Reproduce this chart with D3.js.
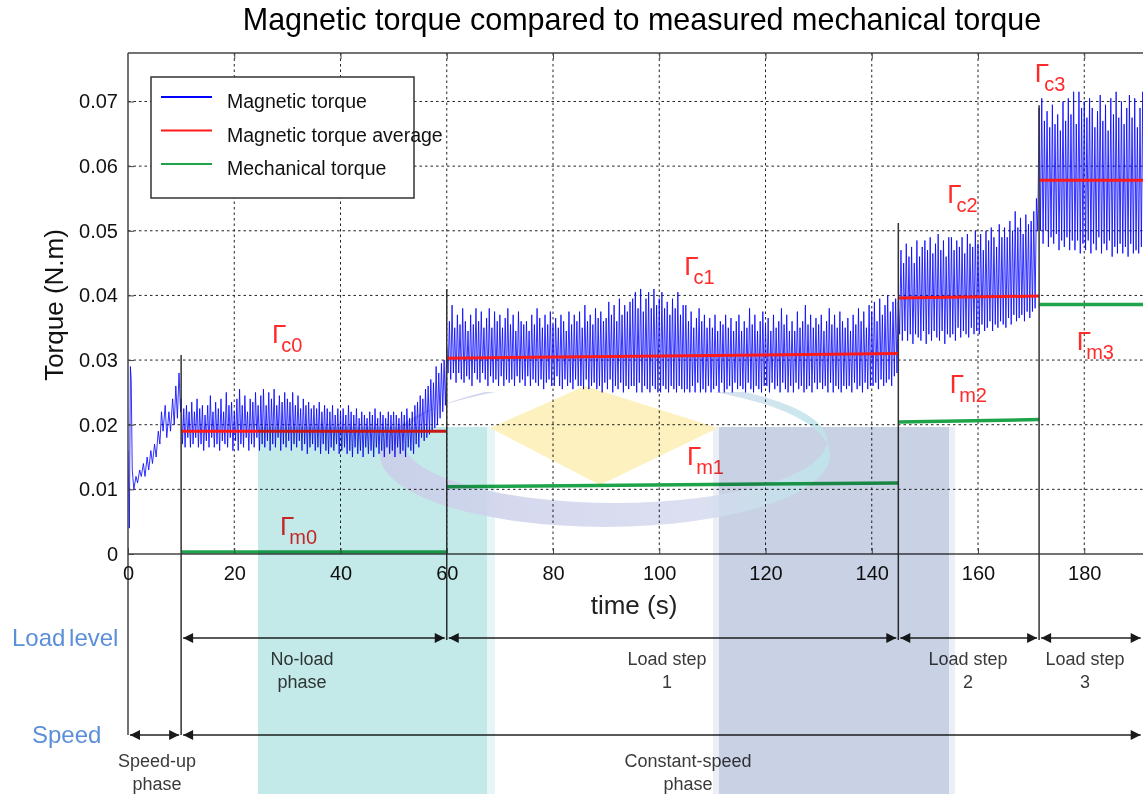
<!DOCTYPE html>
<html>
<head>
<meta charset="utf-8">
<script src="https://cdn.jsdelivr.net/npm/d3@7"></script>
<style>
  body { margin: 0; background: #fff; }
  svg { display: block; font-family: "Liberation Sans", Arial, sans-serif; }
</style>
</head>
<body>
<div id="chart"></div>
<script>
// ---- data ----
const sampleStep = 0.25;

// speed-up phase, irregular samples [t, torque]
const speedUpTorque = [
  [0, 0.016], [0.25, 0.004], [0.45, 0.029], [0.6, 0.027], [0.8, 0.013], [1.1, 0.010],
  [1.5, 0.012], [1.8, 0.011], [2.2, 0.013], [2.5, 0.012], [2.9, 0.014], [3.2, 0.012],
  [3.6, 0.015], [3.9, 0.013], [4.3, 0.016], [4.6, 0.014], [5.0, 0.017], [5.3, 0.015],
  [5.7, 0.019], [6.0, 0.017], [6.3, 0.022], [6.6, 0.019], [7.0, 0.023], [7.3, 0.018],
  [7.7, 0.022], [8.0, 0.019], [8.4, 0.024], [8.7, 0.020], [9.0, 0.026], [9.3, 0.021],
  [9.6, 0.028], [9.9, 0.022]
];

// no-load phase, from t = 10 every 0.25 s
const noLoadStart = 10;
const noLoadTorque = [
  0.024, 0.017, 0.0225, 0.0165, 0.023, 0.018, 0.022, 0.0165, 0.0235, 0.017, 0.022, 0.018, 0.024, 0.0165, 0.0225, 0.017, 0.023, 0.016, 0.0215, 0.0175,
  0.023, 0.0165, 0.0245, 0.018, 0.022, 0.0165, 0.0235, 0.017, 0.0225, 0.016, 0.024, 0.0175, 0.022, 0.017, 0.025, 0.0165, 0.023, 0.018, 0.0235, 0.016,
  0.022, 0.0175, 0.024, 0.016, 0.0255, 0.017, 0.023, 0.0165, 0.0245, 0.018, 0.022, 0.016, 0.024, 0.017, 0.0235, 0.0165, 0.025, 0.018, 0.023, 0.016,
  0.0245, 0.017, 0.0255, 0.0165, 0.023, 0.0175, 0.025, 0.016, 0.024, 0.017, 0.0255, 0.0165, 0.023, 0.018, 0.0245, 0.016, 0.0235, 0.017, 0.025, 0.0165,
  0.024, 0.0175, 0.0235, 0.016, 0.025, 0.017, 0.023, 0.0165, 0.0245, 0.0175, 0.0225, 0.016, 0.024, 0.017, 0.023, 0.0155, 0.0235, 0.0165, 0.0225, 0.017,
  0.023, 0.016, 0.0225, 0.0165, 0.0235, 0.0155, 0.022, 0.017, 0.023, 0.016, 0.0225, 0.0155, 0.022, 0.0165, 0.023, 0.016, 0.0215, 0.017, 0.0225, 0.0155,
  0.022, 0.016, 0.0225, 0.0165, 0.0215, 0.0155, 0.023, 0.016, 0.022, 0.015, 0.0215, 0.0165, 0.0225, 0.0155, 0.021, 0.016, 0.022, 0.015, 0.0215, 0.0165,
  0.021, 0.0155, 0.022, 0.016, 0.0215, 0.015, 0.0225, 0.0165, 0.021, 0.0155, 0.022, 0.016, 0.0215, 0.015, 0.021, 0.0165, 0.022, 0.0155, 0.0215, 0.016,
  0.022, 0.015, 0.0215, 0.0165, 0.021, 0.0155, 0.022, 0.016, 0.0215, 0.015, 0.0225, 0.0165, 0.021, 0.016, 0.022, 0.0155, 0.023, 0.017, 0.0235, 0.0165,
  0.0245, 0.018, 0.024, 0.0175, 0.0255, 0.018, 0.026, 0.0185, 0.027, 0.019, 0.0265, 0.0195, 0.029, 0.020, 0.028, 0.021, 0.0295, 0.022, 0.030, 0.023
];

// load step 1, from t = 60
const step1Start = 60;
const step1Torque = [
  0.032, 0.028, 0.036, 0.027, 0.0385, 0.028, 0.035, 0.0265, 0.037, 0.028, 0.0355, 0.027, 0.038, 0.0265, 0.036, 0.0275, 0.0345, 0.027, 0.037, 0.026,
  0.0355, 0.028, 0.038, 0.027, 0.036, 0.0265, 0.0375, 0.028, 0.035, 0.027, 0.0365, 0.026, 0.038, 0.0275, 0.035, 0.0265, 0.0375, 0.027, 0.036, 0.026,
  0.037, 0.0275, 0.035, 0.026, 0.0365, 0.027, 0.038, 0.0265, 0.0355, 0.027, 0.037, 0.026, 0.0345, 0.0275, 0.0375, 0.0265, 0.036, 0.027, 0.0355, 0.026,
  0.036, 0.0275, 0.0345, 0.026, 0.037, 0.027, 0.0355, 0.0265, 0.038, 0.026, 0.0365, 0.027, 0.035, 0.0255, 0.037, 0.0265, 0.0355, 0.027, 0.0375, 0.026,
  0.0355, 0.026, 0.0365, 0.0275, 0.035, 0.026, 0.037, 0.0255, 0.036, 0.027, 0.0345, 0.026, 0.0375, 0.0265, 0.0355, 0.0255, 0.037, 0.027, 0.036, 0.026,
  0.0375, 0.026, 0.035, 0.0255, 0.0385, 0.027, 0.036, 0.0255, 0.037, 0.026, 0.0355, 0.0265, 0.038, 0.0255, 0.0365, 0.026, 0.0375, 0.025, 0.036, 0.0265,
  0.0365, 0.0255, 0.039, 0.027, 0.037, 0.025, 0.0385, 0.026, 0.036, 0.0255, 0.0395, 0.0265, 0.037, 0.025, 0.0385, 0.026, 0.0375, 0.0255, 0.039, 0.026,
  0.0395, 0.026, 0.0405, 0.025, 0.038, 0.0265, 0.041, 0.025, 0.0375, 0.026, 0.0395, 0.0255, 0.0405, 0.025, 0.038, 0.026, 0.041, 0.0255, 0.0385, 0.025,
  0.0395, 0.025, 0.0405, 0.026, 0.038, 0.0255, 0.039, 0.025, 0.037, 0.026, 0.0395, 0.0255, 0.038, 0.025, 0.0405, 0.026, 0.037, 0.0255, 0.0385, 0.025,
  0.0385, 0.0255, 0.036, 0.025, 0.0375, 0.026, 0.035, 0.025, 0.0365, 0.0265, 0.038, 0.025, 0.036, 0.0255, 0.037, 0.025, 0.035, 0.026, 0.0365, 0.025,
  0.035, 0.0255, 0.037, 0.026, 0.0345, 0.025, 0.036, 0.0265, 0.0355, 0.025, 0.037, 0.0255, 0.035, 0.026, 0.0365, 0.025, 0.0345, 0.0265, 0.036, 0.0255,
  0.037, 0.026, 0.0345, 0.0255, 0.036, 0.025, 0.035, 0.0265, 0.038, 0.0255, 0.0355, 0.025, 0.037, 0.026, 0.0345, 0.0255, 0.036, 0.025, 0.0375, 0.026,
  0.0355, 0.026, 0.0365, 0.025, 0.0345, 0.0265, 0.037, 0.0255, 0.035, 0.026, 0.036, 0.025, 0.038, 0.0265, 0.0355, 0.0255, 0.037, 0.025, 0.0345, 0.026,
  0.036, 0.025, 0.0345, 0.0265, 0.0375, 0.0255, 0.035, 0.026, 0.036, 0.025, 0.0385, 0.0255, 0.0355, 0.026, 0.037, 0.025, 0.035, 0.0265, 0.0365, 0.0255,
  0.0355, 0.0265, 0.037, 0.0255, 0.0345, 0.026, 0.036, 0.025, 0.038, 0.0265, 0.0355, 0.025, 0.037, 0.026, 0.035, 0.0255, 0.0375, 0.025, 0.036, 0.026,
  0.035, 0.0255, 0.0365, 0.026, 0.0345, 0.025, 0.037, 0.0265, 0.0355, 0.0255, 0.038, 0.026, 0.036, 0.025, 0.0375, 0.0265, 0.035, 0.0255, 0.0385, 0.026,
  0.0375, 0.026, 0.039, 0.0265, 0.036, 0.0255, 0.0395, 0.027, 0.037, 0.026, 0.0385, 0.0265, 0.040, 0.027, 0.0375, 0.026, 0.039, 0.0275, 0.0395, 0.028
];

// load step 2, from t = 145
const step2Start = 145;
const step2Torque = [
  0.039, 0.034, 0.047, 0.033, 0.045, 0.0345, 0.048, 0.033, 0.046, 0.034, 0.0475, 0.0325, 0.045, 0.034, 0.0485, 0.0335, 0.046, 0.033, 0.0475, 0.0345,
  0.0485, 0.0325, 0.047, 0.034, 0.049, 0.033, 0.0465, 0.0345, 0.048, 0.0335, 0.0495, 0.033, 0.047, 0.0345, 0.0485, 0.0325, 0.046, 0.034, 0.049, 0.0335,
  0.049, 0.034, 0.047, 0.033, 0.0485, 0.035, 0.0475, 0.0335, 0.049, 0.0345, 0.0465, 0.034, 0.0495, 0.0335, 0.048, 0.035, 0.0475, 0.034, 0.050, 0.0345,
  0.048, 0.034, 0.0495, 0.0355, 0.047, 0.0345, 0.050, 0.035, 0.0485, 0.036, 0.0505, 0.0345, 0.049, 0.0355, 0.0475, 0.035, 0.051, 0.036, 0.049, 0.0355,
  0.0505, 0.035, 0.049, 0.0365, 0.0515, 0.0355, 0.050, 0.037, 0.053, 0.036, 0.0505, 0.0365, 0.052, 0.037, 0.0495, 0.036, 0.0525, 0.0375, 0.051, 0.0365,
  0.0515, 0.0375, 0.053, 0.038, 0.055, 0.050
];

// load step 3, from t = 171.5
const step3Start = 171.5;
const step3Torque = [
  0.069, 0.050, 0.0705, 0.048, 0.067, 0.050, 0.0685, 0.0475, 0.066, 0.049, 0.0695, 0.048, 0.0665, 0.0495, 0.068, 0.047, 0.0655, 0.0485, 0.070, 0.0475,
  0.067, 0.049, 0.0705, 0.047, 0.068, 0.0485, 0.0715, 0.047, 0.0665, 0.0485, 0.0715, 0.0465, 0.069, 0.048, 0.070, 0.047, 0.0675, 0.0485, 0.0705, 0.0465,
  0.069, 0.048, 0.066, 0.047, 0.0685, 0.049, 0.071, 0.0465, 0.067, 0.048, 0.0695, 0.047, 0.0655, 0.0485, 0.0705, 0.046, 0.068, 0.0475, 0.0715, 0.0465,
  0.0675, 0.048, 0.070, 0.0465, 0.0665, 0.0475, 0.069, 0.046, 0.071, 0.048, 0.0675, 0.0465, 0.0705, 0.047, 0.066, 0.0465, 0.069, 0.0475, 0.0715, 0.046,
  0.068, 0.047, 0.070, 0.046
];

// average magnetic torque per phase
const avgTorque = [
  { t0: 10, t1: 60, v0: 0.0190, v1: 0.0190 },
  { t0: 60, t1: 145, v0: 0.0303, v1: 0.0310 },
  { t0: 145, t1: 171.5, v0: 0.0396, v1: 0.0399 },
  { t0: 171.5, t1: 200, v0: 0.0578, v1: 0.0578 }
];
// measured mechanical torque per phase
const mechTorque = [
  { t0: 10, t1: 60, v0: 0.0003, v1: 0.0003 },
  { t0: 60, t1: 145, v0: 0.0104, v1: 0.0110 },
  { t0: 145, t1: 171.5, v0: 0.0204, v1: 0.0208 },
  { t0: 171.5, t1: 200, v0: 0.0386, v1: 0.0386 }
];

// phase boundaries: time and top of the marker line
const phaseMarks = [
  { t: 10, top: 0.0308, down: "speed" },
  { t: 60, top: 0.041, down: "load" },
  { t: 145, top: 0.0512, down: "load" },
  { t: 171.5, top: 0.0694, down: "load" }
];

const gammaLabels = [
  { sub: "c0", t: 27.1, v: 0.0326 },
  { sub: "m0", t: 28.6, v: 0.0029 },
  { sub: "c1", t: 104.7, v: 0.0432 },
  { sub: "m1", t: 105.2, v: 0.0138 },
  { sub: "c2", t: 154.2, v: 0.0543 },
  { sub: "m2", t: 154.7, v: 0.0249 },
  { sub: "c3", t: 170.7, v: 0.0730 },
  { sub: "m3", t: 178.6, v: 0.0316 }
];

const loadPhases = [
  { t0: 10, t1: 60, label: ["No-load", "phase"] },
  { t0: 60, t1: 145, label: ["Load step", "1"] },
  { t0: 145, t1: 171.5, label: ["Load step", "2"] },
  { t0: 171.5, t1: 191, label: ["Load step", "3"] }
];
const speedPhases = [
  { t0: 0, t1: 10, label: ["Speed-up", "phase"] },
  { t0: 10, t1: 191, label: ["Constant-speed", "phase"] }
];

const xTicks = [0, 20, 40, 60, 80, 100, 120, 140, 160, 180];
const yTicks = [0, 0.01, 0.02, 0.03, 0.04, 0.05, 0.06, 0.07];
const legendItems = [
  { name: "Magnetic torque", color: "#0000ff" },
  { name: "Magnetic torque average", color: "#ff1a1a" },
  { name: "Mechanical torque", color: "#1ea54c" }
];

// ---- build series ----
const torque = speedUpTorque.map(d => ({ t: d[0], v: d[1] }))
  .concat(noLoadTorque.map((v, i) => ({ t: noLoadStart + i * sampleStep, v })))
  .concat(step1Torque.map((v, i) => ({ t: step1Start + i * sampleStep, v })))
  .concat(step2Torque.map((v, i) => ({ t: step2Start + i * sampleStep, v })))
  .concat(step3Torque.map((v, i) => ({ t: step3Start + i * sampleStep, v })));

// ---- layout ----
const W = 1143, H = 794;
const plotLeft = 128, plotTop = 53, plotBottom = 554;
const loadY = 638, speedY = 735;

const svg = d3.select("#chart").append("svg")
  .attr("width", W).attr("height", H)
  .attr("viewBox", `0 0 ${W} ${H}`);

svg.append("rect").attr("width", W).attr("height", H).attr("fill", "#fff");

const x = d3.scaleLinear().domain([0, 200]).range([plotLeft, plotLeft + 200 * 5.3125]);
const y = d3.scaleLinear().domain([0, 0.0775]).range([plotBottom, plotTop]);

const defs = svg.append("defs");
defs.append("clipPath").attr("id", "plotClip")
  .append("rect").attr("x", plotLeft).attr("y", plotTop).attr("width", W - plotLeft).attr("height", plotBottom - plotTop);

// grid
const grid = svg.append("g").attr("stroke", "#222").attr("stroke-width", 1).attr("stroke-dasharray", "2.5,3");
grid.selectAll(".vg").data(xTicks.filter(d => d > 0)).enter().append("line")
  .attr("x1", d => x(d)).attr("x2", d => x(d)).attr("y1", plotTop).attr("y2", plotBottom);
grid.selectAll(".hg").data(yTicks.filter(d => d > 0)).enter().append("line")
  .attr("x1", plotLeft).attr("x2", W).attr("y1", d => y(d)).attr("y2", d => y(d));

const plot = svg.append("g").attr("clip-path", "url(#plotClip)");

// magnetic torque trace
plot.append("path").datum(torque)
  .attr("fill", "none").attr("stroke", "#0000ff").attr("stroke-width", 1)
  .attr("stroke-opacity", 0.8).attr("stroke-linejoin", "miter")
  .attr("d", d3.line().x(d => x(d.t)).y(d => y(d.v)));

plot.selectAll(".avg").data(avgTorque).enter().append("line")
  .attr("x1", d => x(d.t0)).attr("x2", d => x(d.t1))
  .attr("y1", d => y(d.v0)).attr("y2", d => y(d.v1))
  .attr("stroke", "#ff1a1a").attr("stroke-width", 3);

plot.selectAll(".mech").data(mechTorque).enter().append("line")
  .attr("x1", d => x(d.t0)).attr("x2", d => x(d.t1))
  .attr("y1", d => y(d.v0)).attr("y2", d => y(d.v1))
  .attr("stroke", "#1ea54c").attr("stroke-width", 3.5);

// axes frame and ticks
const frame = svg.append("g").attr("stroke", "#444").attr("stroke-width", 1.5);
frame.append("line").attr("x1", plotLeft).attr("x2", W).attr("y1", plotTop).attr("y2", plotTop);
frame.append("line").attr("x1", plotLeft).attr("x2", W).attr("y1", plotBottom).attr("y2", plotBottom);
frame.append("line").attr("x1", plotLeft).attr("x2", plotLeft).attr("y1", plotTop).attr("y2", speedY);

svg.append("g").attr("transform", `translate(0,${plotBottom})`)
  .call(d3.axisBottom(x).tickValues(xTicks).tickSize(-6).tickPadding(12).tickFormat(d3.format("d")))
  .call(g => g.select(".domain").remove())
  .call(g => g.selectAll("line").attr("stroke", "#444"))
  .call(g => g.selectAll("text").attr("font-size", 20).attr("fill", "#111")
    .attr("font-family", "Liberation Sans, Arial, sans-serif"));
svg.append("g").attr("transform", `translate(0,${plotTop})`)
  .call(d3.axisTop(x).tickValues(xTicks.filter(d => d > 0)).tickSize(-6).tickFormat(""))
  .call(g => g.select(".domain").remove())
  .call(g => g.selectAll("line").attr("stroke", "#444"));
svg.append("g").attr("transform", `translate(${plotLeft},0)`)
  .call(d3.axisLeft(y).tickValues(yTicks).tickSize(-6).tickPadding(10).tickFormat(d => d === 0 ? "0" : d3.format(".2f")(d)))
  .call(g => g.select(".domain").remove())
  .call(g => g.selectAll("line").attr("stroke", "#444"))
  .call(g => g.selectAll("text").attr("font-size", 20).attr("fill", "#111")
    .attr("font-family", "Liberation Sans, Arial, sans-serif"));

// titles
svg.append("text").attr("x", 642).attr("y", 30).attr("text-anchor", "middle")
  .attr("font-size", 30.5).attr("fill", "#000")
  .text("Magnetic torque compared to measured mechanical torque");
svg.append("text").attr("x", 634).attr("y", 614).attr("text-anchor", "middle")
  .attr("font-size", 26).attr("fill", "#222").text("time (s)");
svg.append("text").attr("transform", "translate(63,305) rotate(-90)").attr("text-anchor", "middle")
  .attr("font-size", 26).attr("fill", "#111").text("Torque (N.m)");

// phase marker lines
const marks = svg.append("g").attr("stroke", "#333").attr("stroke-width", 1.5);
marks.selectAll("line").data(phaseMarks).enter().append("line")
  .attr("x1", d => x(d.t)).attr("x2", d => x(d.t))
  .attr("y1", d => y(d.top)).attr("y2", d => d.down === "speed" ? speedY : loadY + 2);

// gamma labels
const gl = svg.append("g").attr("fill", "#ff2a2a");
gammaLabels.forEach(d => {
  const t = gl.append("text").attr("x", x(d.t)).attr("y", y(d.v));
  t.append("tspan").attr("font-size", 26).text("Γ");
  t.append("tspan").attr("font-size", 20).attr("dx", -5).attr("dy", 9).text(d.sub);
});

// arrows
function arrow(g, x1, x2, yy) {
  g.append("line").attr("x1", x1 + 2).attr("x2", x2 - 2).attr("y1", yy).attr("y2", yy)
    .attr("stroke", "#222").attr("stroke-width", 1.5);
  g.append("path").attr("d", `M${x1 + 2},${yy} l10,-5 l0,10 z`).attr("fill", "#1a1a1a");
  g.append("path").attr("d", `M${x2 - 2},${yy} l-10,-5 l0,10 z`).attr("fill", "#1a1a1a");
}
const ann = svg.append("g");
loadPhases.forEach(p => arrow(ann, x(p.t0), x(p.t1), loadY));
speedPhases.forEach(p => arrow(ann, x(p.t0), x(p.t1), speedY));

const phaseText = (p, cx, y0) => {
  const t = ann.append("text").attr("text-anchor", "middle").attr("font-size", 18).attr("fill", "#3a3a3a");
  p.label.forEach((s, i) => t.append("tspan").attr("x", cx).attr("y", y0 + i * 23).text(s));
};
const loadCenters = [302, 667, 968, 1085];
loadPhases.forEach((p, i) => phaseText(p, loadCenters[i], 665));
const speedCenters = [157, 688];
speedPhases.forEach((p, i) => phaseText(p, speedCenters[i], 767));

svg.append("text").attr("x", 12).attr("y", 646).attr("font-size", 24).attr("fill", "#5b8fd8")
  .attr("word-spacing", -3).text("Load level");
svg.append("text").attr("x", 32).attr("y", 743).attr("font-size", 24).attr("fill", "#5b8fd8").text("Speed");

// legend
const lg = svg.append("g");
lg.append("rect").attr("x", 151).attr("y", 77).attr("width", 263).attr("height", 121)
  .attr("fill", "#fff").attr("stroke", "#333").attr("stroke-width", 1.5);
legendItems.forEach((d, i) => {
  const yy = 97 + i * 33.5;
  lg.append("line").attr("x1", 161).attr("x2", 212).attr("y1", yy).attr("y2", yy)
    .attr("stroke", d.color).attr("stroke-width", 2);
  lg.append("text").attr("x", 227).attr("y", yy + 11).attr("font-size", 19.5).attr("fill", "#111").text(d.name);
});

// faint watermark over the figure
const wm = svg.append("g").style("mix-blend-mode", "multiply");
const grad = defs.append("linearGradient").attr("id", "swoosh").attr("x1", "0").attr("x2", "1");
grad.append("stop").attr("offset", "0").attr("stop-color", "#c9cde8");
grad.append("stop").attr("offset", "0.7").attr("stop-color", "#d6daef");
grad.append("stop").attr("offset", "1").attr("stop-color", "#bde6ea");
defs.append("clipPath").attr("id", "swClip").append("rect")
  .attr("x", 370).attr("y", 392).attr("width", 480).attr("height", 160);

wm.append("rect").attr("x", 487).attr("y", 427).attr("width", 8).attr("height", H - 427).attr("fill", "#e6f5f5");
wm.append("rect").attr("x", 258).attr("y", 427).attr("width", 229).attr("height", H - 427).attr("fill", "#c4e9e9");
wm.append("rect").attr("x", 713).attr("y", 427).attr("width", 242).attr("height", H - 427).attr("fill", "#eceff6");
wm.append("rect").attr("x", 719).attr("y", 427).attr("width", 230).attr("height", H - 427).attr("fill", "#c9d1e4");
wm.append("path").attr("d", "M490,428 L585,386 L718,428 L600,485 Z").attr("fill", "#fcf1bf");
wm.append("path").attr("clip-path", "url(#swClip)").attr("fill-rule", "evenodd").attr("fill", "url(#swoosh)")
  .attr("opacity", 0.85)
  .attr("d", "M380,455 a225,72 0 1,0 450,0 a225,72 0 1,0 -450,0 Z M403,441 a212,62 0 1,0 424,0 a212,62 0 1,0 -424,0 Z");
</script>
</body>
</html>
